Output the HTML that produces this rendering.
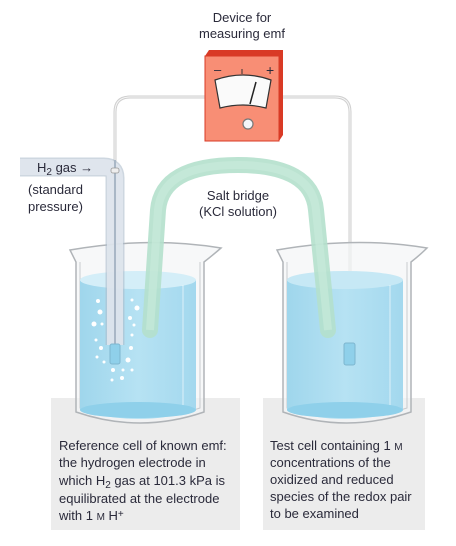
<!DOCTYPE html>
<html><head><meta charset="utf-8"><style>
html,body{margin:0;padding:0;background:#fff;}
svg{display:block;font-family:"Liberation Sans",sans-serif;}
text{fill:#2a2a3a;font-size:13px;}
</style></head><body>
<svg width="456" height="546" viewBox="0 0 456 546">
<defs>
<linearGradient id="liq" x1="0" x2="1"><stop offset="0" stop-color="#9fd6ec"/><stop offset="0.5" stop-color="#b6e2f3"/><stop offset="1" stop-color="#a3d8ee"/></linearGradient>
</defs>
<rect x="51" y="398" width="189" height="132" fill="#ececec"/>
<rect x="263" y="398" width="162" height="132" fill="#ececec"/>

<path d="M205 97 H130 Q115 97 115 112 V345" fill="none" stroke="#cfcfcf" stroke-width="3"/>
<path d="M205 97 H130 Q115 97 115 112 V345" fill="none" stroke="#f6f6f6" stroke-width="1"/>
<path d="M283 97 H335 Q350 97 350 112 V345" fill="none" stroke="#cfcfcf" stroke-width="3"/>
<path d="M283 97 H335 Q350 97 350 112 V345" fill="none" stroke="#f6f6f6" stroke-width="1"/>

<g>
<path d="M70 250 L76 262 L76 412 Q140 434 204 412 L204 262 Q213 255 221 248 Q150 236 70 250 Z" fill="#f3f5f6" fill-opacity="0.7" stroke="#b0b4b8" stroke-width="1.5"/>
<path d="M80 262 L80 408 Q140 428 200 408 L200 262" fill="none" stroke="#c8cbce" stroke-width="1"/>
<path d="M80 280 Q138 266 196 280 L196 410 Q138 428 80 410 Z" fill="url(#liq)"/>
<ellipse cx="138" cy="280" rx="58" ry="9" fill="#d4eef8"/>
<ellipse cx="138" cy="410" rx="58" ry="8" fill="#8fd0ea"/>
<line x1="183" y1="285" x2="183" y2="405" stroke="#fff" stroke-opacity="0.6" stroke-width="1"/>
</g>
<g>
<path d="M277 250 L283 262 L283 412 Q346 434 411 412 L411 262 Q420 255 427 248 Q356 236 277 250 Z" fill="#f3f5f6" fill-opacity="0.7" stroke="#b0b4b8" stroke-width="1.5"/>
<path d="M287 262 L287 408 Q346 428 407 408 L407 262" fill="none" stroke="#c8cbce" stroke-width="1"/>
<path d="M287 280 Q345 266 403 280 L403 410 Q345 428 287 410 Z" fill="url(#liq)"/>
<ellipse cx="345" cy="280" rx="58" ry="9" fill="#c6e8f5"/>
<ellipse cx="345" cy="410" rx="58" ry="8" fill="#8fd0ea"/>
<line x1="390" y1="285" x2="390" y2="405" stroke="#fff" stroke-opacity="0.6" stroke-width="1"/>
</g>

<path d="M20 167 H104 Q115 167 115 178 V345" fill="none" stroke="#aebccb" stroke-width="19" stroke-opacity="0.6"/>
<path d="M20 167 H104 Q115 167 115 178 V345" fill="none" stroke="#e2e8ef" stroke-width="16" stroke-opacity="0.85"/>
<line x1="115" y1="160" x2="115" y2="345" stroke="#a9b7c6" stroke-width="2"/>
<rect x="111" y="168" width="8" height="5" rx="2" fill="#eee" stroke="#999" stroke-width="0.8"/>
<rect x="110" y="344" width="10" height="20" rx="2" fill="#8fd0ea" stroke="#7eb6cf"/>
<g fill="#ffffff">
<circle cx="98" cy="301" r="2"/><circle cx="100" cy="312" r="2.5"/><circle cx="94" cy="324" r="2.5"/><circle cx="102" cy="324" r="1.5"/><circle cx="96" cy="340" r="1.5"/><circle cx="101" cy="348" r="2"/><circle cx="97" cy="357" r="1.5"/><circle cx="104" cy="362" r="1.5"/><circle cx="132" cy="300" r="1.5"/><circle cx="137" cy="308" r="2.5"/><circle cx="130" cy="318" r="2"/><circle cx="134" cy="325" r="1.5"/><circle cx="132" cy="335" r="1.5"/><circle cx="131" cy="348" r="2"/><circle cx="128" cy="360" r="2.5"/><circle cx="113" cy="370" r="2"/><circle cx="123" cy="370" r="1.5"/><circle cx="132" cy="370" r="1.5"/><circle cx="122" cy="378" r="2"/><circle cx="112" cy="380" r="1.5"/>
</g>
<rect x="344" y="343" width="11" height="22" rx="2" fill="#8fd0ea" stroke="#7eb6cf"/>

<path d="M150 330 L158 210 Q162 165 238 165 Q312 165 316 210 L328 330" fill="none" stroke="#b4e0cc" stroke-width="16" stroke-linecap="round" stroke-opacity="0.9"/>
<path d="M150 330 L158 210 Q162 165 238 165 Q312 165 316 210 L328 330" fill="none" stroke="#c9ebdc" stroke-width="8" stroke-opacity="0.6"/>

<g>
<path d="M205 56 L209 50 H283 L283 135 L279 141 Z" fill="#d93a25"/>
<rect x="205" y="56" width="74" height="85" fill="#f88e75" stroke="#d93a25" stroke-width="1"/>
<path d="M215 80 Q243 70 271 80 L266 108 Q243 102 220 108 Z" fill="#fafafa" stroke="#333" stroke-width="1.2"/>
<line x1="256" y1="82" x2="250" y2="104" stroke="#222" stroke-width="1.5"/>
<text x="214" y="74" style="font-size:13px">–</text>
<text x="266" y="75" style="font-size:14px">+</text>
<line x1="242" y1="69" x2="242" y2="74" stroke="#333" stroke-width="1"/>
<circle cx="248" cy="124" r="5" fill="#f4f6fa" stroke="#777" stroke-width="1.2"/>
</g>

<text x="242" y="22" text-anchor="middle">Device for</text>
<text x="242" y="38" text-anchor="middle">measuring emf</text>
<text x="37" y="172">H<tspan dy="3" style="font-size:10px">2</tspan><tspan dy="-3"> gas →</tspan></text>
<text x="28" y="194">(standard</text>
<text x="28" y="211">pressure)</text>
<text x="238" y="200" text-anchor="middle">Salt bridge</text>
<text x="238" y="216" text-anchor="middle">(KCl solution)</text>

<g>
<text x="59" y="450">Reference cell of known emf:</text>
<text x="59" y="467">the hydrogen electrode in</text>
<text x="59" y="485">which H<tspan dy="3" style="font-size:10px">2</tspan><tspan dy="-3"> gas at 101.3 kPa is</tspan></text>
<text x="59" y="503">equilibrated at the electrode</text>
<text x="59" y="520">with 1 <tspan style="font-size:10px">M</tspan> H<tspan dy="-3" style="font-size:10px">+</tspan></text>
</g>
<g>
<text x="270" y="450">Test cell containing 1 <tspan style="font-size:10px">M</tspan></text>
<text x="270" y="467">concentrations of the</text>
<text x="270" y="484">oxidized and reduced</text>
<text x="270" y="501">species of the redox pair</text>
<text x="270" y="518">to be examined</text>
</g>
</svg>
</body></html>
